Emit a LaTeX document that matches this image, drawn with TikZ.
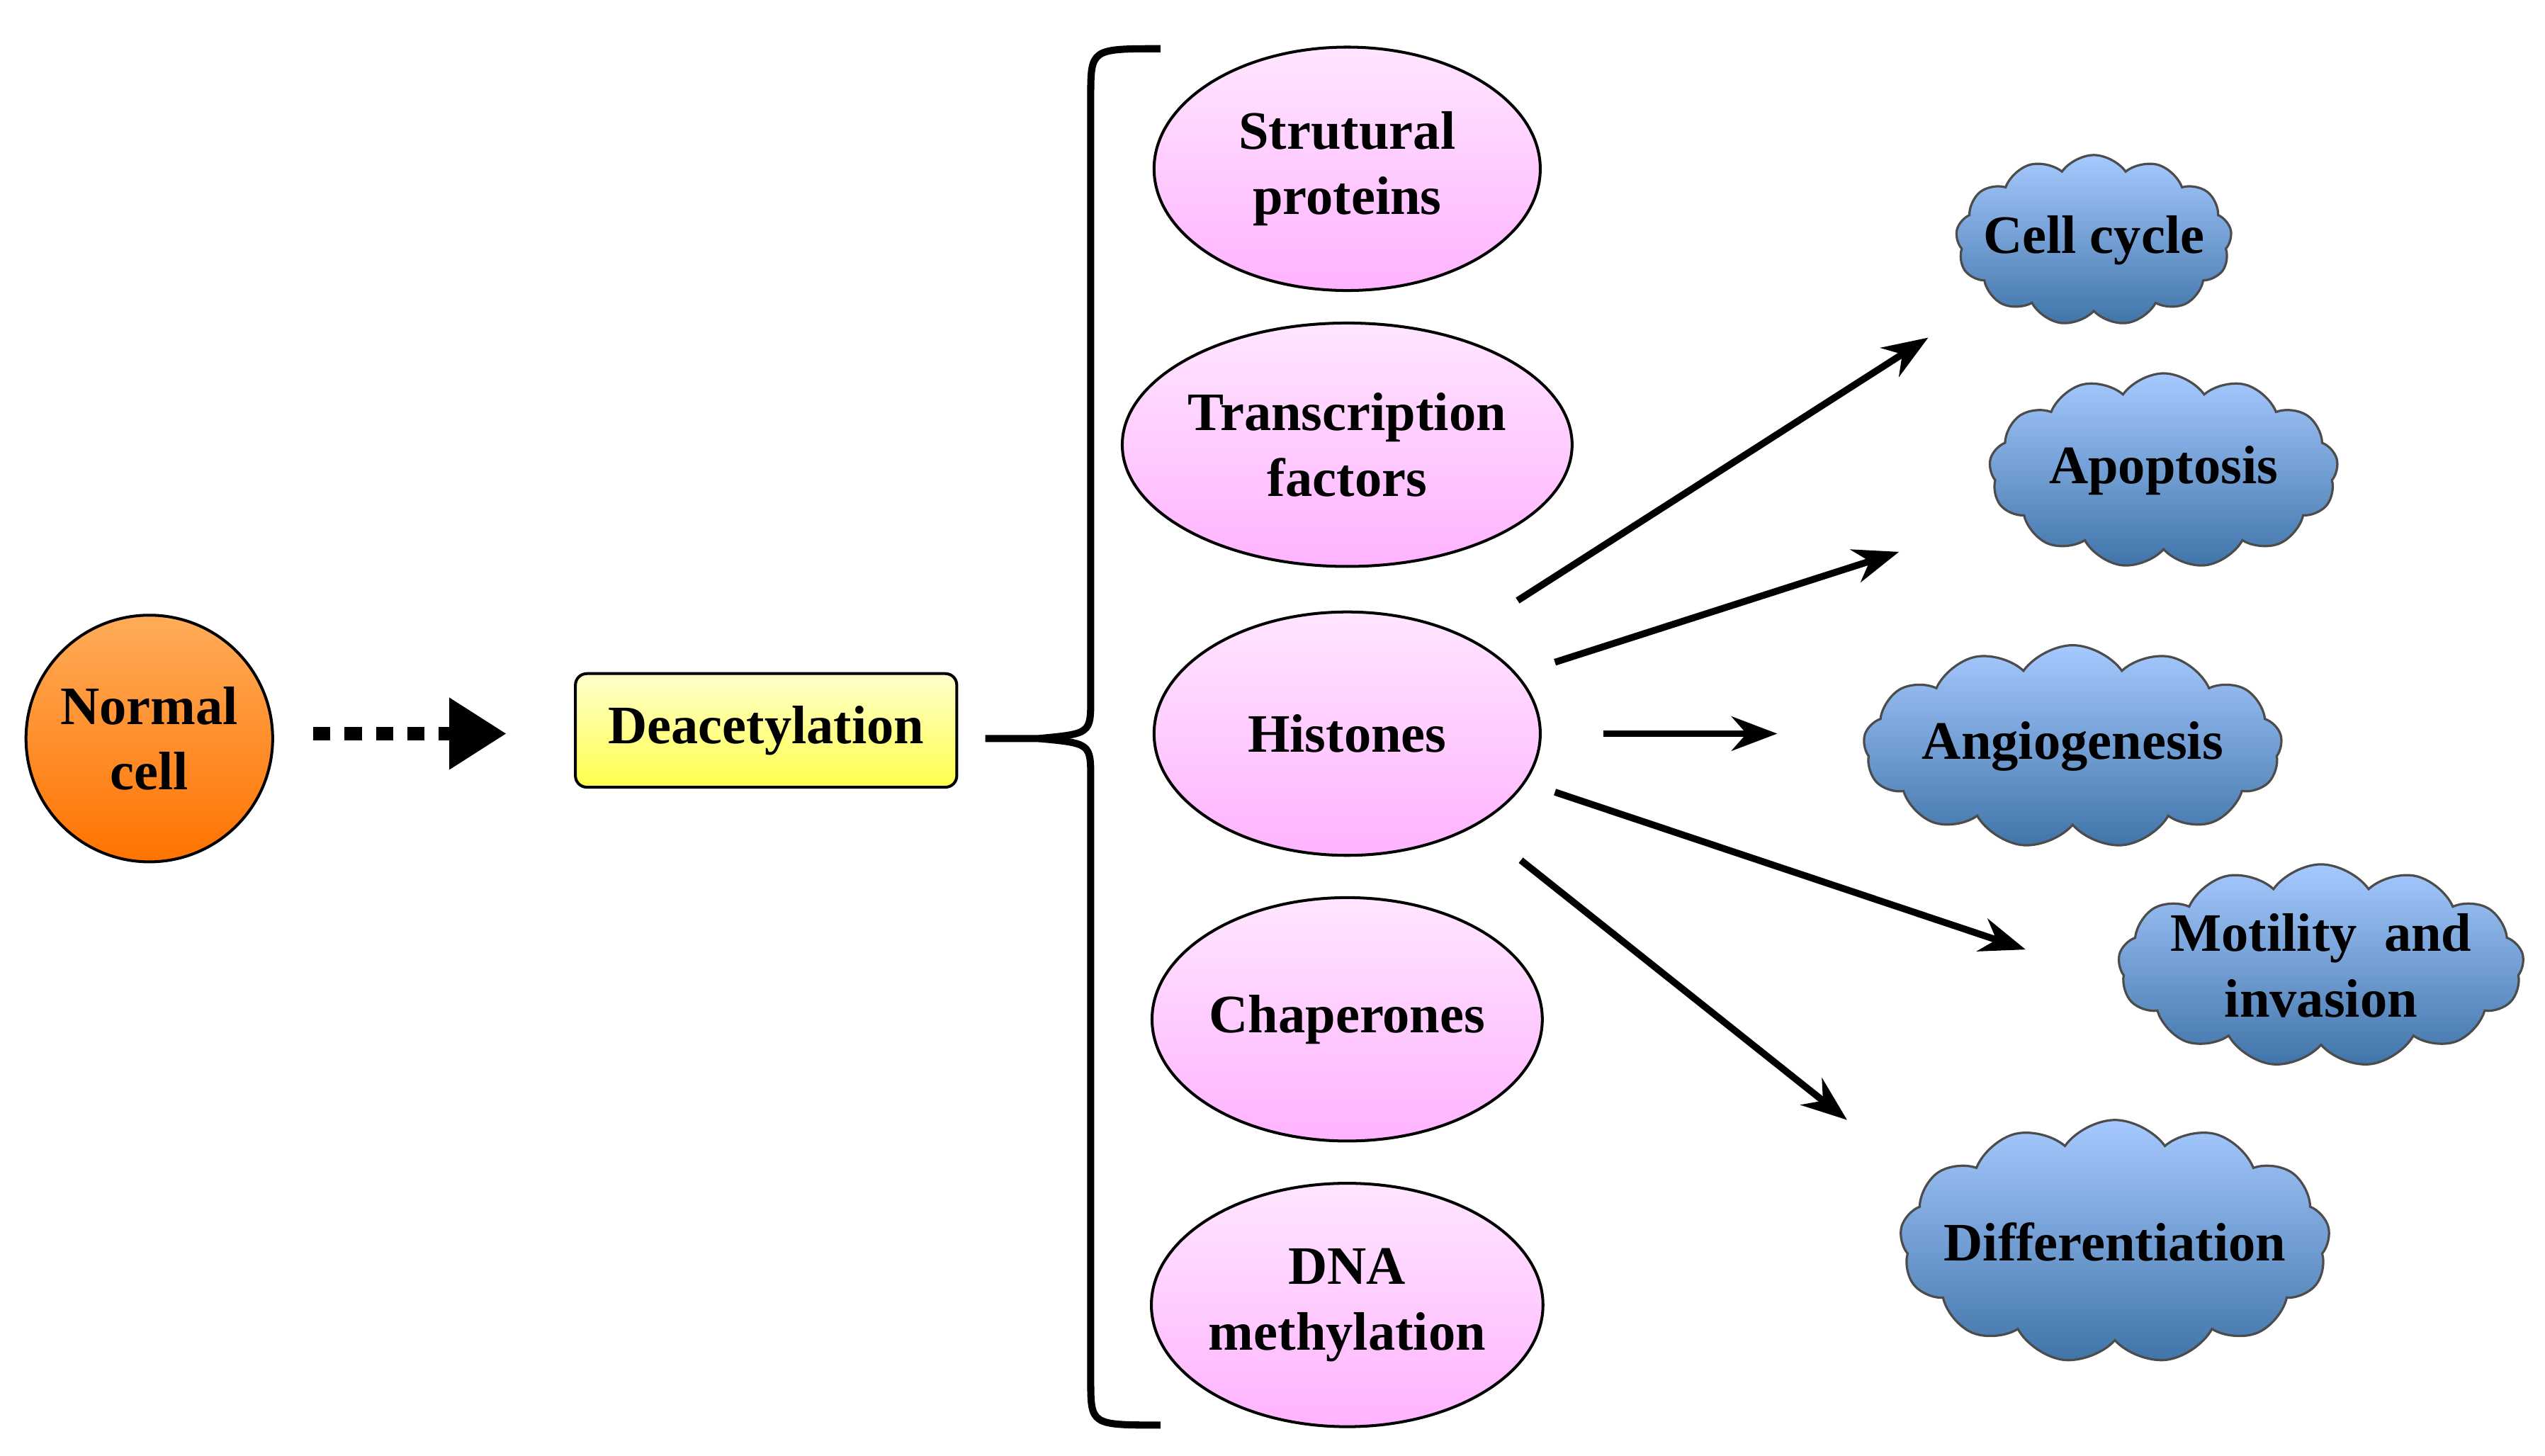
\documentclass[tikz,border=0pt]{standalone}
\usepackage{fontspec}
\setmainfont{Liberation Serif}
\usetikzlibrary{shapes.symbols,shapes.geometric,arrows.meta}
\begin{document}
\begin{tikzpicture}[x=0.02cm,y=-0.02cm,
  txt/.style={font=\fontsize{19}{23}\selectfont\bfseries,align=center},
  ell/.style={ellipse,draw=black,line width=1pt,inner sep=0pt,minimum width=4.76cm,minimum height=3cm,txt,top color=magenta!10,bottom color=magenta!30},
  cl/.style={cloud,cloud puffs=13,cloud puff arc=110,draw=black!70,line width=0.8pt,top color=cyan!40!blue!35,bottom color=blue!50!cyan!55!black!75,inner sep=0pt},
  arr/.style={line width=2.4pt,-{Stealth[length=16pt,width=12pt]}}]
\useasboundingbox (0,0) rectangle (1568,897);
\node[circle,draw=black,line width=1pt,minimum size=3.04cm,top color=orange!65,bottom color=orange!90!red,txt] (nc) at (92,455) {Normal\\cell};
\node[rounded corners=4pt,draw=black,line width=1pt,minimum width=4.7cm,minimum height=1.4cm,top color=yellow!20,bottom color=yellow!70,txt] (de) at (472,450) {Deacetylation};
\coordinate (d0) at (193,452); \coordinate (d1) at (312,452);
\draw[line width=4.5pt,dash pattern=on 6pt off 5pt,-{Triangle[length=20pt,width=24pt]}] (d0) -- (d1);
\draw[line width=2.5pt] (715,30) .. controls (672,30) and (672,30) .. (672,60) -- (672,430) .. controls (672,452) .. (640,455) -- (607,455);
\draw[line width=2.5pt] (640,455) .. controls (672,458) .. (672,480) -- (672,850) .. controls (672,878) and (672,878) .. (715,878);
\node[ell] (e1) at (830,104) {Strutural\\proteins};
\node[ell] (e2) at (830,274) {Transcription\\factors};
\node[ell] (e3) at (830,452) {Histones};
\node[ell] (e4) at (830,628) {Chaperones};
\node[ell] (e5) at (830,804) {DNA\\methylation};
\node[cl,aspect=1.6,minimum width=3.4cm,minimum height=2.1cm] (c1) at (1290,148) {};
\node[cl,aspect=1.8,minimum width=4.3cm,minimum height=2.4cm] (c2) at (1333,290) {};
\node[cl,aspect=2.1,minimum width=5.16cm,minimum height=2.5cm] (c3) at (1277,460) {};
\node[cl,aspect=2,minimum width=5cm,minimum height=2.5cm] (c4) at (1430,595) {};
\node[cl,aspect=1.8,minimum width=5.3cm,minimum height=3cm] (c5) at (1303,765) {};
\node[txt] at (c1) {Cell cycle};
\node[txt] at (c2) {Apoptosis};
\node[txt] at (c3) {Angiogenesis};
\node[txt] at (c4) {Motility\ \ and\\invasion};
\node[txt] at (c5) {Differentiation};
\coordinate (a1) at (935,370); \coordinate (t1) at (1188,208);
\coordinate (a2) at (958,408); \coordinate (t2) at (1170,340);
\coordinate (a3) at (988,452); \coordinate (t3) at (1095,452);
\coordinate (a4) at (958,488); \coordinate (t4) at (1248,585);
\coordinate (a5) at (937,530); \coordinate (t5) at (1138,690);
\draw[arr] (a1) -- (t1); \draw[arr] (a2) -- (t2); \draw[arr] (a3) -- (t3);
\draw[arr] (a4) -- (t4); \draw[arr] (a5) -- (t5);
\end{tikzpicture}
\end{document}
